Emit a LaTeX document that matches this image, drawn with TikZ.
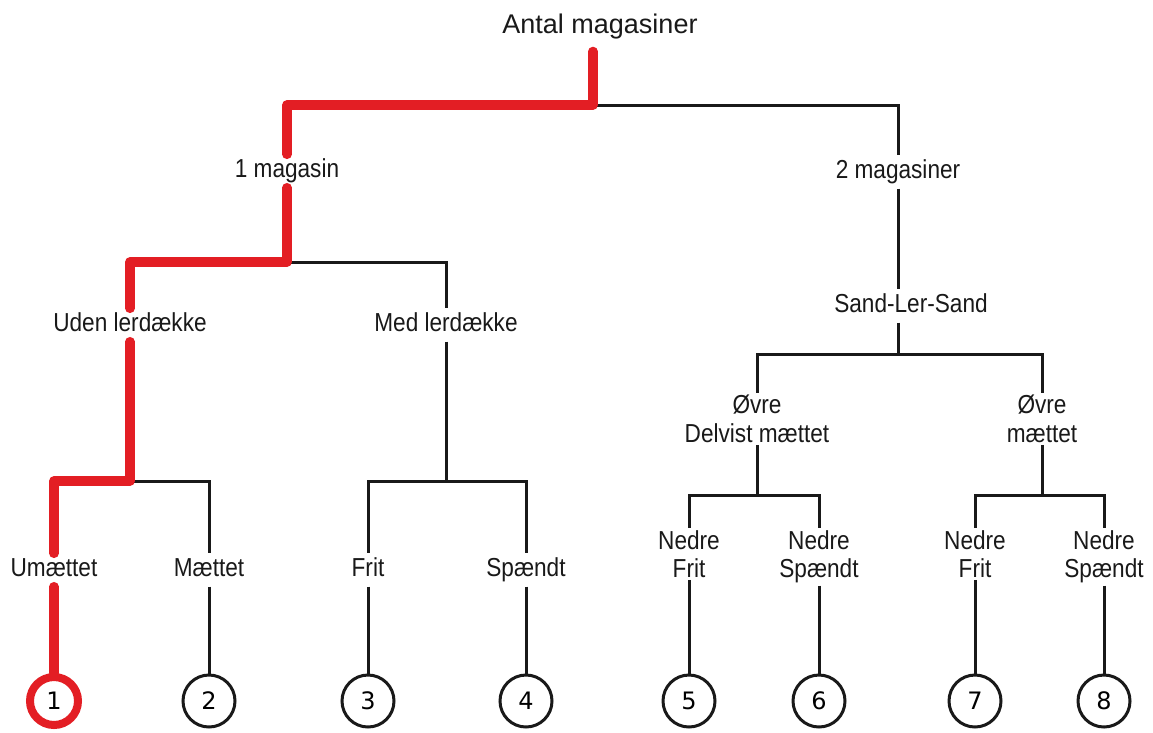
\documentclass[tikz,border=0pt]{standalone}
\usepackage{fontspec}
\setmainfont{Liberation Sans}
\newfontfamily\labelfont[FakeStretch=0.87]{Liberation Sans}
\newfontfamily\numberfont{DejaVu Sans}
\definecolor{pathred}{RGB}{227,30,36}

\begin{document}
\begin{tikzpicture}[x=1pt,y=-1pt,
		tree/.style={line width=3pt, black!90},
		chosen/.style={line width=9.5pt, pathred, line cap=round, line join=round},
		lbl/.style={font=\labelfont\fontsize{26}{28}\selectfont, text=black!90, inner xsep=2pt, inner ysep=4pt, text height=19pt, text depth=6pt},
		lbltwo/.style={font=\labelfont\fontsize{26}{28.5}\selectfont, text=black!90, inner sep=2pt, align=center},
		leaf/.style={circle, draw=black!90, line width=3pt, minimum size=52pt, inner sep=0pt, font=\numberfont\fontsize{24}{24}\selectfont}]

	\fill[white] (0,0) rectangle (1153,732);
	\useasboundingbox (0,0) rectangle (1153,732);

	\node[font=\fontsize{27}{30}\selectfont, text=black!90, inner xsep=2pt, inner ysep=11pt, text height=20pt, text depth=6.5pt] (root) at (600,27) {Antal magasiner};

	\node[lbl] (mag1) at (287,171) {1 magasin};
	\node[lbl] (mag2) at (898,172) {2 magasiner};

	\node[lbl] (uden) at (130,325) {Uden lerdække};
	\node[lbl] (med) at (446,325) {Med lerdække};
	\node[lbl] (sls) at (911,306) {Sand-Ler-Sand};

	\node[lbltwo] (ovre1) at (757,419) {Øvre\\Delvist mættet};
	\node[lbltwo] (ovre2) at (1042,419) {Øvre\\mættet};

	\node[lbl] (umae) at (54,570) {Umættet};
	\node[lbl] (maet) at (209,570) {Mættet};
	\node[lbl] (frit) at (368,570) {Frit};
	\node[lbl] (spaendt) at (526,570) {Spændt};
	\node[lbltwo] (nf1) at (689,554) {Nedre\\Frit};
	\node[lbltwo] (ns1) at (819,557) {Nedre\\Spændt};
	\node[lbltwo] (nf2) at (975,554) {Nedre\\Frit};
	\node[lbltwo] (ns2) at (1104,557) {Nedre\\Spændt};

	% numbered end points
	\node[leaf, draw=pathred, line width=8pt, minimum size=48pt] (c1) at (54,701) {1};
	\foreach \n/\x in {2/209, 3/368, 4/526, 5/689, 6/819, 7/975, 8/1104}
		\node[leaf] (c\n) at (\x,701) {\n};

	% branching points
	\coordinate (b0) at (593,105);
	\coordinate (b1) at (287,262);
	\coordinate (b2) at (898,354);
	\coordinate (b3) at (130,481);
	\coordinate (b4) at (446,481);
	\coordinate (b5) at (757,495);
	\coordinate (b6) at (1042,495);

	\draw[tree] (root.south -| b0) -- (b0) (b0) -| (mag1) (b0) -| (mag2);
	\draw[tree] (mag1) -- (b1) -| (uden) (b1) -| (med);
	\draw[tree] (mag2) -- (sls.north -| mag2) (sls.south -| mag2) -- (b2) -| (ovre1) (b2) -| (ovre2);
	\draw[tree] (uden) -- (b3) -| (umae) (b3) -| (maet);
	\draw[tree] (med) -- (b4) -| (frit) (b4) -| (spaendt);
	\draw[tree] (ovre1) -- (b5) -| (nf1) (b5) -| (ns1);
	\draw[tree] (ovre2) -- (b6) -| (nf2) (b6) -| (ns2);
	\foreach \a/\b in {maet/c2, frit/c3, spaendt/c4, nf1/c5, ns1/c6, nf2/c7, ns2/c8}
		\draw[tree] (\a) -- (\b);

	% the marked route down to 1
	\draw[chosen] (root.south -| b0) -- (b0) -| (mag1);
	\draw[chosen] (mag1) -- (b1) -| (uden);
	\draw[chosen] (uden) -- (b3) -| (umae);
	\draw[chosen] (umae) -- (c1);
\end{tikzpicture}
\end{document}
